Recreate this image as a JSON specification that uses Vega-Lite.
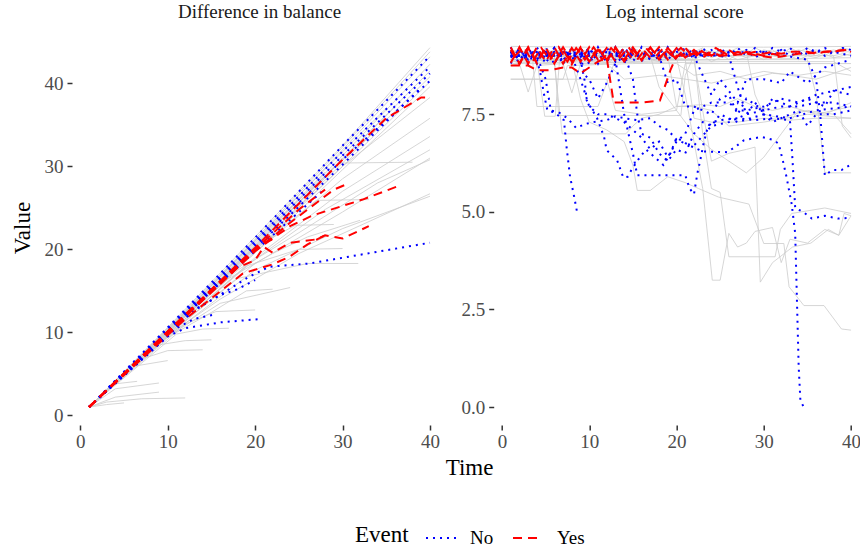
{
"$schema":"https://vega.github.io/schema/vega-lite/v6.json",
"padding":{"left":11,"top":3,"right":0,"bottom":0},
"config":{
 "font":"Liberation Serif",
 "view":{"stroke":null},
 "axis":{"grid":false,"domain":false,"tickColor":"#333333","tickSize":5,"tickWidth":1.5,"labelColor":"#4d4d4d","labelFontSize":19,"labelFont":"Liberation Serif","titleFont":"Liberation Serif","titleFontSize":23,"titleFontWeight":"normal","titleColor":"#000000","labelPadding":2},
 "axisY":{"labelPadding":4},
 "title":{"fontSize":19,"fontWeight":"normal","font":"Liberation Serif","color":"#1a1a1a","offset":8,"baseline":"alphabetic"},
 "legend":{"direction":"horizontal","titleOrient":"left","titleFontSize":23,"titleFontWeight":"normal","titleColor":"#000000","titleFont":"Liberation Serif","labelFont":"Liberation Serif","labelFontSize":19,"labelColor":"#000000","symbolType":"stroke","symbolSize":900,"symbolStrokeWidth":2,"labelOffset":13,"columnPadding":15,"titlePadding":16}
},
"datasets":{
"lg":[
{"i":1,"t":1,"v":1},{"i":1,"t":10,"v":10.6},{"i":1,"t":20,"v":21.5},{"i":1,"t":30,"v":32.5},{"i":1,"t":40,"v":44.3},
{"i":2,"t":1,"v":1},{"i":2,"t":10,"v":10.4},{"i":2,"t":20,"v":21},{"i":2,"t":30,"v":32},{"i":2,"t":40,"v":43.2},
{"i":3,"t":1,"v":1},{"i":3,"t":10,"v":10.3},{"i":3,"t":20,"v":20.6},{"i":3,"t":30,"v":31.3},{"i":3,"t":40,"v":42.3},
{"i":4,"t":1,"v":1},{"i":4,"t":10,"v":10.2},{"i":4,"t":20,"v":20.3},{"i":4,"t":30,"v":30.8},{"i":4,"t":40,"v":41.5},
{"i":5,"t":1,"v":1},{"i":5,"t":10,"v":10.1},{"i":5,"t":20,"v":20.1},{"i":5,"t":30,"v":30.4},{"i":5,"t":40,"v":40.8},
{"i":6,"t":1,"v":1},{"i":6,"t":10,"v":10},{"i":6,"t":20,"v":19.8},{"i":6,"t":30,"v":30},{"i":6,"t":40,"v":40.2},
{"i":7,"t":1,"v":1},{"i":7,"t":10,"v":9.9},{"i":7,"t":20,"v":19.6},{"i":7,"t":30,"v":29.6},{"i":7,"t":40,"v":39.6},
{"i":8,"t":1,"v":1},{"i":8,"t":10,"v":10.3},{"i":8,"t":20,"v":21},{"i":8,"t":25,"v":26.5},{"i":8,"t":35,"v":37},
{"i":9,"t":1,"v":1},{"i":9,"t":10,"v":10.2},{"i":9,"t":17,"v":17.8},{"i":9,"t":20.8,"v":22.1},{"i":9,"t":22,"v":21.5},{"i":9,"t":30,"v":31},
{"i":10,"t":1,"v":1},{"i":10,"t":10,"v":10.4},{"i":10,"t":20,"v":20.8},{"i":10,"t":28,"v":29.3},
{"i":11,"t":1,"v":1},{"i":11,"t":10,"v":10},{"i":11,"t":20,"v":20.2},{"i":11,"t":30,"v":30},{"i":11,"t":40,"v":38.3},
{"i":12,"t":1,"v":1},{"i":12,"t":10,"v":10},{"i":12,"t":20,"v":19.6},{"i":12,"t":30,"v":28.5},{"i":12,"t":40,"v":35.8},
{"i":13,"t":1,"v":1},{"i":13,"t":10,"v":9.8},{"i":13,"t":20,"v":19},{"i":13,"t":30,"v":27},{"i":13,"t":40,"v":33.6},
{"i":14,"t":1,"v":1},{"i":14,"t":10,"v":9.8},{"i":14,"t":20,"v":18.8},{"i":14,"t":28,"v":24.8},{"i":14,"t":40,"v":32},
{"i":15,"t":1,"v":1},{"i":15,"t":10,"v":9.7},{"i":15,"t":20,"v":18.3},{"i":15,"t":30,"v":24.5},{"i":15,"t":40,"v":31},
{"i":16,"t":1,"v":1},{"i":16,"t":10,"v":9.6},{"i":16,"t":16,"v":14},{"i":16,"t":25,"v":19.5},{"i":16,"t":40,"v":26.7},
{"i":17,"t":1,"v":1},{"i":17,"t":10,"v":9.5},{"i":17,"t":20,"v":17.5},{"i":17,"t":30,"v":22.5},{"i":17,"t":40,"v":26.4},
{"i":18,"t":1,"v":1},{"i":18,"t":10,"v":10.2},{"i":18,"t":20,"v":20.5},{"i":18,"t":29.5,"v":30.4},{"i":18,"t":38,"v":30.5},
{"i":19,"t":1,"v":1},{"i":19,"t":10,"v":10},{"i":19,"t":20,"v":20},{"i":19,"t":27,"v":25.9},{"i":19,"t":33,"v":26},
{"i":20,"t":1,"v":1},{"i":20,"t":10,"v":10},{"i":20,"t":20,"v":20.3},{"i":20,"t":24.6,"v":22.9},{"i":20,"t":29,"v":23},
{"i":21,"t":1,"v":1},{"i":21,"t":10,"v":9.8},{"i":21,"t":19,"v":18},{"i":21,"t":25,"v":20},{"i":21,"t":30,"v":20.1},
{"i":22,"t":1,"v":1},{"i":22,"t":10,"v":9.6},{"i":22,"t":18,"v":16.5},{"i":22,"t":26,"v":18.3},{"i":22,"t":31.8,"v":18.3},
{"i":23,"t":1,"v":1},{"i":23,"t":10,"v":9.5},{"i":23,"t":16,"v":13.5},{"i":23,"t":24,"v":15.4},
{"i":24,"t":1,"v":1},{"i":24,"t":12,"v":11},{"i":24,"t":15.5,"v":12.5},{"i":24,"t":20,"v":12.7},
{"i":25,"t":1,"v":1},{"i":25,"t":11,"v":9.8},{"i":25,"t":14,"v":10.4},{"i":25,"t":17,"v":10.5},
{"i":26,"t":1,"v":1},{"i":26,"t":9,"v":8.5},{"i":26,"t":12,"v":9},{"i":26,"t":15,"v":9.1},
{"i":27,"t":1,"v":1},{"i":27,"t":7,"v":6.8},{"i":27,"t":10,"v":7.8},{"i":27,"t":14,"v":7.9},
{"i":28,"t":1,"v":1},{"i":28,"t":6,"v":5.9},{"i":28,"t":10,"v":6.6},
{"i":29,"t":1,"v":1},{"i":29,"t":4,"v":3.8},{"i":29,"t":6.5,"v":4.1},
{"i":30,"t":1,"v":1},{"i":30,"t":4,"v":3.2},{"i":30,"t":9,"v":3.9},
{"i":31,"t":1,"v":1},{"i":31,"t":4,"v":2.2},{"i":31,"t":9,"v":2.8},
{"i":32,"t":1,"v":1},{"i":32,"t":3,"v":1.6},{"i":32,"t":7,"v":2},{"i":32,"t":12,"v":2.1},
{"i":33,"t":1,"v":1},{"i":33,"t":3,"v":1.3},{"i":33,"t":5,"v":1.5},
{"i":34,"t":1,"v":1},{"i":34,"t":10,"v":10},{"i":34,"t":17,"v":16.5},{"i":34,"t":22,"v":19.5},{"i":34,"t":26,"v":21.5},{"i":34,"t":32,"v":23.5},
{"i":35,"t":1,"v":1},{"i":35,"t":10,"v":10},{"i":35,"t":18,"v":17.5},{"i":35,"t":25,"v":22},{"i":35,"t":34,"v":28},{"i":35,"t":40,"v":30.8},
{"i":36,"t":1,"v":1},{"i":36,"t":10,"v":10.3},{"i":36,"t":20,"v":21},{"i":36,"t":25,"v":26},{"i":36,"t":34,"v":34.5},
{"i":37,"t":1,"v":1},{"i":37,"t":12,"v":12},{"i":37,"t":18,"v":18.3},
{"i":38,"t":1,"v":1},{"i":38,"t":10,"v":9.4},{"i":38,"t":15,"v":12.4},{"i":38,"t":19,"v":15},{"i":38,"t":22,"v":15.2},
{"i":39,"t":1,"v":1},{"i":39,"t":10,"v":10.1},{"i":39,"t":20,"v":20.4},{"i":39,"t":30,"v":31},{"i":39,"t":36,"v":37.2},
{"i":40,"t":1,"v":1},{"i":40,"t":10,"v":10.5},{"i":40,"t":20,"v":21.2},{"i":40,"t":30,"v":32.3},{"i":40,"t":40,"v":43.8}
],
"lh":[
{"i":1,"e":"No","t":1,"v":1},{"i":1,"e":"No","t":10,"v":10.6},{"i":1,"e":"No","t":20,"v":21.4},{"i":1,"e":"No","t":30,"v":32.5},{"i":1,"e":"No","t":40,"v":43.3},
{"i":2,"e":"No","t":1,"v":1},{"i":2,"e":"No","t":10,"v":10.4},{"i":2,"e":"No","t":20,"v":21},{"i":2,"e":"No","t":30,"v":31.8},{"i":2,"e":"No","t":40,"v":42},
{"i":3,"e":"No","t":1,"v":1},{"i":3,"e":"No","t":10,"v":10.3},{"i":3,"e":"No","t":20,"v":20.7},{"i":3,"e":"No","t":30,"v":31.3},{"i":3,"e":"No","t":40,"v":41.2},
{"i":4,"e":"No","t":1,"v":1},{"i":4,"e":"No","t":10,"v":10.2},{"i":4,"e":"No","t":20,"v":20.4},{"i":4,"e":"No","t":30,"v":30.8},{"i":4,"e":"No","t":40,"v":40.3},
{"i":5,"e":"No","t":1,"v":1},{"i":5,"e":"No","t":10,"v":10.1},{"i":5,"e":"No","t":20,"v":20.1},{"i":5,"e":"No","t":30,"v":30.2},{"i":5,"e":"No","t":39,"v":39.5},
{"i":6,"e":"No","t":1,"v":1},{"i":6,"e":"No","t":10,"v":10.1},{"i":6,"e":"No","t":20,"v":19.8},{"i":6,"e":"No","t":28,"v":27.3},
{"i":7,"e":"No","t":1,"v":1},{"i":7,"e":"No","t":13,"v":12.6},{"i":7,"e":"No","t":15.5,"v":14.2},{"i":7,"e":"No","t":19.3,"v":16.7},{"i":7,"e":"No","t":21.6,"v":17.9},{"i":7,"e":"No","t":26.2,"v":18.3},{"i":7,"e":"No","t":40,"v":20.8},
{"i":8,"e":"No","t":1,"v":1},{"i":8,"e":"No","t":10,"v":9.5},{"i":8,"e":"No","t":12,"v":10.5},{"i":8,"e":"No","t":16,"v":11.2},{"i":8,"e":"No","t":20.5,"v":11.6},
{"i":9,"e":"No","t":1,"v":1},{"i":9,"e":"No","t":11,"v":10.5},{"i":9,"e":"No","t":13,"v":11.6},{"i":9,"e":"No","t":15.5,"v":12.2},
{"i":10,"e":"No","t":1,"v":1},{"i":10,"e":"No","t":13,"v":12.7},{"i":10,"e":"No","t":16,"v":14.5},{"i":10,"e":"No","t":18,"v":15.2},{"i":10,"e":"No","t":20,"v":16.3},
{"i":11,"e":"Yes","t":1,"v":1},{"i":11,"e":"Yes","t":10,"v":10.1},{"i":11,"e":"Yes","t":20,"v":20.2},{"i":11,"e":"Yes","t":30,"v":30.8},{"i":11,"e":"Yes","t":35,"v":35.8},{"i":11,"e":"Yes","t":39,"v":38.3},{"i":11,"e":"Yes","t":40,"v":38.3},
{"i":12,"e":"Yes","t":1,"v":1},{"i":12,"e":"Yes","t":10,"v":10},{"i":12,"e":"Yes","t":20,"v":19.8},{"i":12,"e":"Yes","t":24,"v":23.2},{"i":12,"e":"Yes","t":29,"v":27.2},{"i":12,"e":"Yes","t":30.8,"v":28},
{"i":13,"e":"Yes","t":1,"v":1},{"i":13,"e":"Yes","t":10,"v":10},{"i":13,"e":"Yes","t":20,"v":19.8},{"i":13,"e":"Yes","t":24,"v":22.8},{"i":13,"e":"Yes","t":26.6,"v":24.1},{"i":13,"e":"Yes","t":32.3,"v":26},{"i":13,"e":"Yes","t":36.3,"v":27.6},
{"i":14,"e":"Yes","t":1,"v":1},{"i":14,"e":"Yes","t":10,"v":9.9},{"i":14,"e":"Yes","t":18,"v":17.8},{"i":14,"e":"Yes","t":20,"v":18.7},{"i":14,"e":"Yes","t":21,"v":20.3},{"i":14,"e":"Yes","t":22,"v":19.6},{"i":14,"e":"Yes","t":24,"v":20.8},{"i":14,"e":"Yes","t":27,"v":21.2},{"i":14,"e":"Yes","t":28,"v":21.7},{"i":14,"e":"Yes","t":30,"v":21.3},{"i":14,"e":"Yes","t":33,"v":22.8},
{"i":15,"e":"Yes","t":1,"v":1},{"i":15,"e":"Yes","t":12,"v":11.6},{"i":15,"e":"Yes","t":18.6,"v":17.1},{"i":15,"e":"Yes","t":22,"v":18.2},{"i":15,"e":"Yes","t":23.9,"v":19.1},{"i":15,"e":"Yes","t":26,"v":20.6},{"i":15,"e":"Yes","t":28,"v":21.7},
{"i":16,"e":"Yes","t":1,"v":1},{"i":16,"e":"Yes","t":10,"v":10.1},{"i":16,"e":"Yes","t":19,"v":19.2},{"i":16,"e":"Yes","t":20,"v":19.8},{"i":16,"e":"Yes","t":21,"v":20.8},{"i":16,"e":"Yes","t":22,"v":21.2},
{"i":17,"e":"Yes","t":1,"v":1},{"i":17,"e":"Yes","t":10,"v":10.1},{"i":17,"e":"Yes","t":20,"v":20},{"i":17,"e":"Yes","t":25,"v":24.8},{"i":17,"e":"Yes","t":28,"v":27.2}
],
"rg":[
{"i":1,"t":1,"v":9.2},{"i":1,"t":2,"v":9.0},{"i":1,"t":3,"v":9.15},{"i":1,"t":4,"v":8.95},{"i":1,"t":5,"v":9.2},{"i":1,"t":6,"v":9.05},{"i":1,"t":7,"v":9.2},{"i":1,"t":8,"v":8.95},{"i":1,"t":9,"v":9.15},{"i":1,"t":10,"v":9.0},{"i":1,"t":11,"v":9.2},{"i":1,"t":12,"v":9.05},{"i":1,"t":13,"v":9.15},{"i":1,"t":14,"v":8.9},{"i":1,"t":15,"v":9.2},{"i":1,"t":16,"v":9.1},{"i":1,"t":17,"v":9.2},{"i":1,"t":18,"v":8.95},{"i":1,"t":19,"v":9.15},{"i":1,"t":20,"v":9.05},{"i":1,"t":21,"v":9.2},{"i":1,"t":22,"v":9.1},{"i":1,"t":23,"v":9.2},{"i":1,"t":24,"v":9.0},{"i":1,"t":25,"v":9.15},{"i":1,"t":26,"v":9.1},{"i":1,"t":27,"v":9.2},{"i":1,"t":28,"v":9.05},{"i":1,"t":29,"v":9.2},{"i":1,"t":30,"v":9.1},{"i":1,"t":31,"v":9.15},{"i":1,"t":32,"v":9.0},{"i":1,"t":33,"v":9.2},{"i":1,"t":34,"v":9.1},{"i":1,"t":35,"v":9.2},{"i":1,"t":36,"v":9.05},{"i":1,"t":37,"v":9.15},{"i":1,"t":38,"v":9.1},{"i":1,"t":39,"v":9.2},{"i":1,"t":40,"v":9.15},
{"i":2,"t":1,"v":8.9},{"i":2,"t":2,"v":8.8},{"i":2,"t":3,"v":8.85},{"i":2,"t":4,"v":8.95},{"i":2,"t":5,"v":8.8},{"i":2,"t":6,"v":8.9},{"i":2,"t":7,"v":8.85},{"i":2,"t":8,"v":8.8},{"i":2,"t":9,"v":8.95},{"i":2,"t":10,"v":8.85},{"i":2,"t":11,"v":8.9},{"i":2,"t":12,"v":8.8},{"i":2,"t":13,"v":8.95},{"i":2,"t":14,"v":8.9},{"i":2,"t":15,"v":8.85},{"i":2,"t":16,"v":8.95},{"i":2,"t":17,"v":8.9},{"i":2,"t":18,"v":8.85},{"i":2,"t":19,"v":8.95},{"i":2,"t":20,"v":8.9},{"i":2,"t":21,"v":8.95},{"i":2,"t":22,"v":8.9},{"i":2,"t":23,"v":9.0},{"i":2,"t":24,"v":8.85},{"i":2,"t":25,"v":8.95},{"i":2,"t":26,"v":9.0},{"i":2,"t":27,"v":8.9},{"i":2,"t":28,"v":8.95},{"i":2,"t":29,"v":9.0},{"i":2,"t":30,"v":8.9},{"i":2,"t":31,"v":9.0},{"i":2,"t":32,"v":8.95},{"i":2,"t":33,"v":9.0},{"i":2,"t":34,"v":8.9},{"i":2,"t":35,"v":9.0},{"i":2,"t":36,"v":8.95},{"i":2,"t":37,"v":9.05},{"i":2,"t":38,"v":8.95},{"i":2,"t":39,"v":9.0},{"i":2,"t":40,"v":9.05},
{"i":3,"t":1,"v":9.1},{"i":3,"t":2,"v":9.15},{"i":3,"t":3,"v":9.0},{"i":3,"t":4,"v":9.1},{"i":3,"t":5,"v":9.05},{"i":3,"t":6,"v":9.15},{"i":3,"t":7,"v":9.1},{"i":3,"t":8,"v":9.0},{"i":3,"t":9,"v":9.1},{"i":3,"t":10,"v":9.15},{"i":3,"t":11,"v":9.05},{"i":3,"t":12,"v":9.1},{"i":3,"t":13,"v":9.15},{"i":3,"t":14,"v":9.05},{"i":3,"t":15,"v":9.1},{"i":3,"t":16,"v":9.0},{"i":3,"t":17,"v":9.1},{"i":3,"t":18,"v":9.15},{"i":3,"t":19,"v":9.05},{"i":3,"t":20,"v":9.15},{"i":3,"t":21,"v":9.1},{"i":3,"t":22,"v":9.05},{"i":3,"t":23,"v":9.15},{"i":3,"t":24,"v":9.1},{"i":3,"t":25,"v":9.05},{"i":3,"t":26,"v":9.15},{"i":3,"t":27,"v":9.1},{"i":3,"t":28,"v":9.15},{"i":3,"t":29,"v":9.05},{"i":3,"t":30,"v":9.15},{"i":3,"t":31,"v":9.1},{"i":3,"t":32,"v":9.15},{"i":3,"t":33,"v":9.1},{"i":3,"t":34,"v":9.15},{"i":3,"t":35,"v":9.1},{"i":3,"t":36,"v":9.15},{"i":3,"t":37,"v":9.1},{"i":3,"t":38,"v":9.15},{"i":3,"t":39,"v":9.1},{"i":3,"t":40,"v":9.1},
{"i":4,"t":1,"v":8.75},{"i":4,"t":2,"v":8.8},{"i":4,"t":3,"v":8.07},{"i":4,"t":4,"v":8.75},{"i":4,"t":7,"v":8.8},{"i":4,"t":8,"v":8.05},{"i":4,"t":9,"v":8.8},{"i":4,"t":15,"v":8.85},{"i":4,"t":25,"v":8.9},{"i":4,"t":40,"v":8.95},
{"i":5,"t":1,"v":8.4},{"i":5,"t":7,"v":8.4},{"i":5,"t":7.5,"v":8.75},{"i":5,"t":15,"v":8.8},{"i":5,"t":25,"v":8.85},{"i":5,"t":38,"v":8.85},{"i":5,"t":40,"v":8.6},
{"i":6,"t":1,"v":9.05},{"i":6,"t":2,"v":8.9},{"i":6,"t":3,"v":9.1},{"i":6,"t":4,"v":8.85},{"i":6,"t":5,"v":9.0},{"i":6,"t":6,"v":8.9},{"i":6,"t":7,"v":9.05},{"i":6,"t":8,"v":8.85},{"i":6,"t":9,"v":9.0},{"i":6,"t":10,"v":8.9},{"i":6,"t":11,"v":9.05},{"i":6,"t":12,"v":8.95},{"i":6,"t":13,"v":9.0},{"i":6,"t":14,"v":8.85},{"i":6,"t":15,"v":9.05},{"i":6,"t":16,"v":8.95},{"i":6,"t":17,"v":9.1},{"i":6,"t":18,"v":8.9},{"i":6,"t":19,"v":9.05},{"i":6,"t":20,"v":8.9},{"i":6,"t":21,"v":9.05},{"i":6,"t":22,"v":8.95},{"i":6,"t":23,"v":9.1},{"i":6,"t":24,"v":8.95},{"i":6,"t":25,"v":9.05},{"i":6,"t":26,"v":8.9},{"i":6,"t":27,"v":9.05},{"i":6,"t":28,"v":8.95},{"i":6,"t":29,"v":9.1},{"i":6,"t":30,"v":9.0},{"i":6,"t":31,"v":9.05},{"i":6,"t":32,"v":8.95},{"i":6,"t":33,"v":9.1},{"i":6,"t":34,"v":9.0},{"i":6,"t":35,"v":9.05},{"i":6,"t":36,"v":9.0},{"i":6,"t":37,"v":9.1},{"i":6,"t":38,"v":9.0},{"i":6,"t":39,"v":9.05},{"i":6,"t":40,"v":9.0},
{"i":7,"t":1,"v":8.9},{"i":7,"t":4,"v":8.9},{"i":7,"t":4.9,"v":7.45},{"i":7,"t":6.1,"v":7.45},{"i":7,"t":6.6,"v":8.9},{"i":7,"t":12,"v":8.9},
{"i":8,"t":1,"v":8.9},{"i":8,"t":3.5,"v":8.9},{"i":8,"t":4,"v":7.7},{"i":8,"t":11,"v":7.7},{"i":8,"t":12,"v":8.3},{"i":8,"t":13,"v":8.9},{"i":8,"t":20,"v":9.0},
{"i":9,"t":1,"v":9.0},{"i":9,"t":6,"v":9.0},{"i":9,"t":6.5,"v":7.47},{"i":9,"t":20.5,"v":7.47},{"i":9,"t":21,"v":8.5},{"i":9,"t":22,"v":9.0},{"i":9,"t":30,"v":9.0},
{"i":10,"t":1,"v":8.8},{"i":10,"t":6,"v":8.8},{"i":10,"t":6.9,"v":7.0},{"i":10,"t":14.2,"v":7.0},{"i":10,"t":15,"v":7.2},{"i":10,"t":16,"v":7.4},{"i":10,"t":18,"v":7.5},{"i":10,"t":20,"v":7.7},{"i":10,"t":22,"v":7.7},{"i":10,"t":24,"v":7.6},{"i":10,"t":26,"v":7.2},{"i":10,"t":30,"v":7.3},{"i":10,"t":35,"v":7.5},{"i":10,"t":40,"v":7.4},
{"i":11,"t":1,"v":9.0},{"i":11,"t":8,"v":8.9},{"i":11,"t":9,"v":7.9},{"i":11,"t":10,"v":7.3},{"i":11,"t":12,"v":7.1},{"i":11,"t":14,"v":6.8},{"i":11,"t":15,"v":6.2},{"i":11,"t":15.5,"v":5.55},{"i":11,"t":17,"v":5.55},{"i":11,"t":19,"v":5.9},{"i":11,"t":21,"v":5.75},{"i":11,"t":22.5,"v":5.6},{"i":11,"t":24.8,"v":5.38},{"i":11,"t":28.3,"v":5.2},{"i":11,"t":30,"v":4.19},{"i":11,"t":32.3,"v":4.19},{"i":11,"t":32.9,"v":3.08},{"i":11,"t":34.6,"v":2.6},{"i":11,"t":36.9,"v":2.6},{"i":11,"t":38.9,"v":2.0},{"i":11,"t":40,"v":1.97},
{"i":12,"t":1,"v":9.0},{"i":12,"t":20,"v":8.95},{"i":12,"t":21,"v":8.0},{"i":12,"t":22,"v":6.8},{"i":12,"t":23,"v":5.6},{"i":12,"t":24.1,"v":3.25},{"i":12,"t":25,"v":3.25},{"i":12,"t":26,"v":4.45},{"i":12,"t":27,"v":4.1},{"i":12,"t":28,"v":4.2},{"i":12,"t":29,"v":4.5},{"i":12,"t":31,"v":4.6},{"i":12,"t":32,"v":3.7},{"i":12,"t":33,"v":4.3},{"i":12,"t":35,"v":4.2},{"i":12,"t":37,"v":4.55},{"i":12,"t":38.6,"v":4.4},{"i":12,"t":40,"v":4.9},
{"i":13,"t":1,"v":9.1},{"i":13,"t":22,"v":9.0},{"i":13,"t":23,"v":7.0},{"i":13,"t":24,"v":5.6},{"i":13,"t":25,"v":5.5},{"i":13,"t":26,"v":3.85},{"i":13,"t":31.3,"v":3.85},{"i":13,"t":31.9,"v":4.55},{"i":13,"t":33.2,"v":4.96},{"i":13,"t":37,"v":5.1},{"i":13,"t":40,"v":4.96},
{"i":14,"t":1,"v":9.0},{"i":14,"t":22,"v":8.9},{"i":14,"t":24,"v":6.3},{"i":14,"t":26,"v":6.5},{"i":14,"t":28,"v":6.6},{"i":14,"t":29,"v":6.66},{"i":14,"t":29.6,"v":3.2},{"i":14,"t":31,"v":3.7},{"i":14,"t":33.3,"v":4.1},{"i":14,"t":35.4,"v":4.2},{"i":14,"t":37.4,"v":4.55},{"i":14,"t":38.6,"v":4.4},{"i":14,"t":39.2,"v":4.96},{"i":14,"t":40,"v":4.9},
{"i":15,"t":1,"v":8.9},{"i":15,"t":35,"v":8.9},{"i":15,"t":36,"v":8.0},{"i":15,"t":37,"v":6.0},{"i":15,"t":40,"v":6.0},
{"i":16,"t":1,"v":9.0},{"i":16,"t":38,"v":9.0},{"i":16,"t":39,"v":7.2},{"i":16,"t":40,"v":6.9},
{"i":17,"t":1,"v":9.0},{"i":17,"t":19,"v":9.0},{"i":17,"t":20,"v":7.7},{"i":17,"t":23,"v":7.75},{"i":17,"t":25,"v":7.7},{"i":17,"t":27,"v":7.9},{"i":17,"t":29,"v":7.7},{"i":17,"t":31,"v":7.6},{"i":17,"t":33,"v":7.7},{"i":17,"t":36,"v":7.5},{"i":17,"t":40,"v":7.7},
{"i":18,"t":1,"v":8.9},{"i":18,"t":21,"v":8.9},{"i":18,"t":22,"v":7.4},{"i":18,"t":24,"v":7.3},{"i":18,"t":27,"v":7.3},{"i":18,"t":30,"v":7.4},{"i":18,"t":33,"v":7.35},{"i":18,"t":36,"v":7.4},{"i":18,"t":40,"v":7.4},
{"i":19,"t":1,"v":9.0},{"i":19,"t":17,"v":9.0},{"i":19,"t":18,"v":8.2},{"i":19,"t":20,"v":7.6},{"i":19,"t":22,"v":7.0},{"i":19,"t":24,"v":6.6},{"i":19,"t":26,"v":6.3},{"i":19,"t":28,"v":6.0},{"i":19,"t":30,"v":6.4},{"i":19,"t":32,"v":7.0},{"i":19,"t":34,"v":7.6},{"i":19,"t":37,"v":7.5},{"i":19,"t":40,"v":7.8},
{"i":20,"t":1,"v":9.1},{"i":20,"t":28,"v":9.1},{"i":20,"t":29,"v":8.0},{"i":20,"t":30,"v":7.5},{"i":20,"t":32,"v":7.4},{"i":20,"t":35,"v":7.6},{"i":20,"t":38,"v":7.5},{"i":20,"t":40,"v":7.0},
{"i":21,"t":1,"v":8.9},{"i":21,"t":20,"v":8.8},{"i":21,"t":22,"v":8.5},{"i":21,"t":25,"v":8.6},{"i":21,"t":28,"v":8.4},{"i":21,"t":31,"v":8.55},{"i":21,"t":34,"v":8.5},{"i":21,"t":37,"v":8.6},{"i":21,"t":40,"v":8.5},
{"i":22,"t":1,"v":8.85},{"i":22,"t":12,"v":8.8},{"i":22,"t":14,"v":8.4},{"i":22,"t":18,"v":8.5},{"i":22,"t":24,"v":8.3},{"i":22,"t":30,"v":8.6},{"i":22,"t":36,"v":8.4},{"i":22,"t":40,"v":8.7},
{"i":23,"t":1,"v":8.4},{"i":23,"t":12,"v":8.4},{"i":23,"t":13,"v":7.6},{"i":23,"t":16,"v":7.5},{"i":23,"t":20,"v":7.6},{"i":23,"t":21,"v":8.8},{"i":23,"t":40,"v":8.8},
{"i":24,"t":1,"v":9.24},{"i":24,"t":10,"v":9.22},{"i":24,"t":20,"v":9.24},{"i":24,"t":30,"v":9.22},{"i":24,"t":40,"v":9.24}
],
"rh":[
{"i":1,"e":"No","t":1,"v":9.22},{"i":1,"e":"No","t":2,"v":8.78},{"i":1,"e":"No","t":3,"v":9.22},{"i":1,"e":"No","t":4,"v":8.8},{"i":1,"e":"No","t":5,"v":9.22},{"i":1,"e":"No","t":6,"v":8.78},{"i":1,"e":"No","t":7,"v":9.22},{"i":1,"e":"No","t":8,"v":8.8},{"i":1,"e":"No","t":9,"v":9.22},{"i":1,"e":"No","t":10,"v":8.78},{"i":1,"e":"No","t":11,"v":9.22},{"i":1,"e":"No","t":12,"v":8.82},{"i":1,"e":"No","t":13,"v":9.22},{"i":1,"e":"No","t":14,"v":8.8},{"i":1,"e":"No","t":15,"v":9.22},{"i":1,"e":"No","t":16,"v":8.85},{"i":1,"e":"No","t":17,"v":9.22},{"i":1,"e":"No","t":18,"v":8.85},{"i":1,"e":"No","t":19,"v":9.22},{"i":1,"e":"No","t":20,"v":8.9},{"i":1,"e":"No","t":21,"v":9.22},{"i":1,"e":"No","t":22,"v":8.9},{"i":1,"e":"No","t":23,"v":9.2},{"i":1,"e":"No","t":24,"v":8.95},{"i":1,"e":"No","t":25,"v":9.2},{"i":1,"e":"No","t":26,"v":9.0},{"i":1,"e":"No","t":27,"v":9.2},{"i":1,"e":"No","t":28,"v":9.0},{"i":1,"e":"No","t":29,"v":9.2},{"i":1,"e":"No","t":30,"v":9.05},{"i":1,"e":"No","t":31,"v":9.2},{"i":1,"e":"No","t":32,"v":9.1},{"i":1,"e":"No","t":33,"v":9.2},{"i":1,"e":"No","t":34,"v":9.0},{"i":1,"e":"No","t":35,"v":9.2},{"i":1,"e":"No","t":36,"v":9.1},{"i":1,"e":"No","t":37,"v":9.2},{"i":1,"e":"No","t":38,"v":9.05},{"i":1,"e":"No","t":39,"v":9.2},{"i":1,"e":"No","t":40,"v":9.15},
{"i":2,"e":"No","t":1,"v":8.8},{"i":2,"e":"No","t":2,"v":9.2},{"i":2,"e":"No","t":3,"v":8.78},{"i":2,"e":"No","t":4,"v":9.22},{"i":2,"e":"No","t":5,"v":8.8},{"i":2,"e":"No","t":6,"v":9.2},{"i":2,"e":"No","t":7,"v":8.78},{"i":2,"e":"No","t":8,"v":9.22},{"i":2,"e":"No","t":9,"v":8.82},{"i":2,"e":"No","t":10,"v":9.2},{"i":2,"e":"No","t":11,"v":8.8},{"i":2,"e":"No","t":12,"v":9.22},{"i":2,"e":"No","t":13,"v":8.85},{"i":2,"e":"No","t":14,"v":9.2},{"i":2,"e":"No","t":15,"v":8.85},{"i":2,"e":"No","t":16,"v":9.22},{"i":2,"e":"No","t":17,"v":8.9},{"i":2,"e":"No","t":18,"v":9.2},{"i":2,"e":"No","t":19,"v":8.88},{"i":2,"e":"No","t":20,"v":9.2},{"i":2,"e":"No","t":21,"v":8.95},{"i":2,"e":"No","t":22,"v":9.1},{"i":2,"e":"No","t":23,"v":9.0},{"i":2,"e":"No","t":24,"v":9.15},{"i":2,"e":"No","t":25,"v":8.95},{"i":2,"e":"No","t":26,"v":9.1},{"i":2,"e":"No","t":27,"v":9.0},{"i":2,"e":"No","t":28,"v":9.15},{"i":2,"e":"No","t":29,"v":8.95},{"i":2,"e":"No","t":30,"v":9.1},{"i":2,"e":"No","t":31,"v":9.0},{"i":2,"e":"No","t":32,"v":9.15},{"i":2,"e":"No","t":33,"v":9.0},{"i":2,"e":"No","t":34,"v":9.1},{"i":2,"e":"No","t":35,"v":9.05},{"i":2,"e":"No","t":36,"v":9.15},{"i":2,"e":"No","t":37,"v":9.0},{"i":2,"e":"No","t":38,"v":9.1},{"i":2,"e":"No","t":39,"v":9.05},{"i":2,"e":"No","t":40,"v":9.0},
{"i":3,"e":"No","t":1,"v":9.05},{"i":3,"e":"No","t":2,"v":9.15},{"i":3,"e":"No","t":3,"v":8.9},{"i":3,"e":"No","t":4,"v":9.1},{"i":3,"e":"No","t":5,"v":8.95},{"i":3,"e":"No","t":6,"v":9.2},{"i":3,"e":"No","t":7,"v":8.85},{"i":3,"e":"No","t":8,"v":9.1},{"i":3,"e":"No","t":9,"v":9.0},{"i":3,"e":"No","t":10,"v":9.2},{"i":3,"e":"No","t":11,"v":8.9},{"i":3,"e":"No","t":12,"v":9.1},{"i":3,"e":"No","t":13,"v":8.95},{"i":3,"e":"No","t":14,"v":9.2},{"i":3,"e":"No","t":15,"v":9.0},{"i":3,"e":"No","t":16,"v":9.1},{"i":3,"e":"No","t":17,"v":8.9},{"i":3,"e":"No","t":18,"v":9.15},{"i":3,"e":"No","t":19,"v":9.0},{"i":3,"e":"No","t":20,"v":9.1},{"i":3,"e":"No","t":21,"v":9.05},{"i":3,"e":"No","t":22,"v":9.15},{"i":3,"e":"No","t":23,"v":9.0},{"i":3,"e":"No","t":24,"v":9.1},
{"i":4,"e":"No","t":1,"v":9.1},{"i":4,"e":"No","t":2,"v":8.9},{"i":4,"e":"No","t":3,"v":9.1},{"i":4,"e":"No","t":4,"v":8.9},{"i":4,"e":"No","t":4.4,"v":8.55},{"i":4,"e":"No","t":4.8,"v":8.03},{"i":4,"e":"No","t":5.2,"v":7.6},{"i":4,"e":"No","t":6,"v":7.55},{"i":4,"e":"No","t":7.1,"v":7.35},{"i":4,"e":"No","t":7.4,"v":6.66},{"i":4,"e":"No","t":7.8,"v":5.9},{"i":4,"e":"No","t":8.2,"v":5.47},{"i":4,"e":"No","t":8.6,"v":5.0},
{"i":5,"e":"No","t":1,"v":8.95},{"i":5,"e":"No","t":2,"v":9.15},{"i":5,"e":"No","t":3,"v":8.9},{"i":5,"e":"No","t":4,"v":9.1},{"i":5,"e":"No","t":5,"v":8.95},{"i":5,"e":"No","t":6,"v":9.1},{"i":5,"e":"No","t":7,"v":8.9},{"i":5,"e":"No","t":8,"v":9.1},{"i":5,"e":"No","t":9,"v":8.9},{"i":5,"e":"No","t":9.5,"v":8.33},{"i":5,"e":"No","t":9.7,"v":7.86},{"i":5,"e":"No","t":10.9,"v":7.4},{"i":5,"e":"No","t":11.7,"v":6.92},{"i":5,"e":"No","t":12,"v":6.58},{"i":5,"e":"No","t":13.2,"v":6.32},{"i":5,"e":"No","t":13.9,"v":5.88},{"i":5,"e":"No","t":14.4,"v":5.9},{"i":5,"e":"No","t":14.9,"v":6.1},{"i":5,"e":"No","t":15.8,"v":6.4},{"i":5,"e":"No","t":16.5,"v":6.6},{"i":5,"e":"No","t":17.5,"v":6.4},{"i":5,"e":"No","t":18.5,"v":6.2},{"i":5,"e":"No","t":19.3,"v":6.5},{"i":5,"e":"No","t":20,"v":6.9},{"i":5,"e":"No","t":21.5,"v":6.7},{"i":5,"e":"No","t":23,"v":6.55},{"i":5,"e":"No","t":25.8,"v":6.53},{"i":5,"e":"No","t":26.7,"v":6.66},{"i":5,"e":"No","t":27.7,"v":6.83},{"i":5,"e":"No","t":28.7,"v":6.88},{"i":5,"e":"No","t":29.8,"v":6.92},{"i":5,"e":"No","t":31,"v":6.85},{"i":5,"e":"No","t":31.7,"v":6.75},{"i":5,"e":"No","t":32.2,"v":6.3},{"i":5,"e":"No","t":32.6,"v":5.9},{"i":5,"e":"No","t":33.2,"v":5.2},{"i":5,"e":"No","t":33.6,"v":4.45},{"i":5,"e":"No","t":33.8,"v":2.74},{"i":5,"e":"No","t":34,"v":1.03},{"i":5,"e":"No","t":34.2,"v":0.15},{"i":5,"e":"No","t":34.6,"v":0.0},
{"i":6,"e":"No","t":1,"v":9.1},{"i":6,"e":"No","t":2,"v":8.9},{"i":6,"e":"No","t":3,"v":9.15},{"i":6,"e":"No","t":4,"v":8.9},{"i":6,"e":"No","t":5,"v":9.1},{"i":6,"e":"No","t":6,"v":8.95},{"i":6,"e":"No","t":7,"v":9.1},{"i":6,"e":"No","t":8,"v":8.9},{"i":6,"e":"No","t":9,"v":9.05},{"i":6,"e":"No","t":10,"v":8.9},{"i":6,"e":"No","t":11,"v":9.1},{"i":6,"e":"No","t":12,"v":9.0},{"i":6,"e":"No","t":13,"v":8.9},{"i":6,"e":"No","t":14,"v":7.5},{"i":6,"e":"No","t":15,"v":6.5},{"i":6,"e":"No","t":15.5,"v":5.94},{"i":6,"e":"No","t":21,"v":5.94},{"i":6,"e":"No","t":21.5,"v":5.6},{"i":6,"e":"No","t":22,"v":5.45},{"i":6,"e":"No","t":22.4,"v":6.0},{"i":6,"e":"No","t":22.7,"v":6.3},{"i":6,"e":"No","t":23.1,"v":6.75},{"i":6,"e":"No","t":23.5,"v":7.1},{"i":6,"e":"No","t":24,"v":7.3},{"i":6,"e":"No","t":25,"v":7.35},{"i":6,"e":"No","t":27,"v":7.4},{"i":6,"e":"No","t":29,"v":7.35},{"i":6,"e":"No","t":31,"v":7.4},{"i":6,"e":"No","t":33,"v":7.35},{"i":6,"e":"No","t":33.3,"v":6.3},{"i":6,"e":"No","t":33.6,"v":5.1},{"i":6,"e":"No","t":34.5,"v":5.0},{"i":6,"e":"No","t":35.5,"v":4.83},{"i":6,"e":"No","t":37,"v":4.9},{"i":6,"e":"No","t":38.5,"v":4.83},{"i":6,"e":"No","t":40,"v":4.85},
{"i":7,"e":"No","t":1,"v":9.0},{"i":7,"e":"No","t":10,"v":9.1},{"i":7,"e":"No","t":20,"v":9.05},{"i":7,"e":"No","t":30,"v":9.1},{"i":7,"e":"No","t":35,"v":8.9},{"i":7,"e":"No","t":36,"v":8.4},{"i":7,"e":"No","t":36.5,"v":7.4},{"i":7,"e":"No","t":37,"v":5.93},{"i":7,"e":"No","t":37.8,"v":6.07},{"i":7,"e":"No","t":38.9,"v":6.07},{"i":7,"e":"No","t":39.9,"v":6.2},
{"i":8,"e":"No","t":1,"v":9.0},{"i":8,"e":"No","t":4,"v":9.0},{"i":8,"e":"No","t":5,"v":8.4},{"i":8,"e":"No","t":5.6,"v":7.6},{"i":8,"e":"No","t":6.5,"v":7.55},{"i":8,"e":"No","t":7.5,"v":7.4},{"i":8,"e":"No","t":8.5,"v":7.15},{"i":8,"e":"No","t":9.5,"v":7.25},{"i":8,"e":"No","t":10.5,"v":7.3},{"i":8,"e":"No","t":12,"v":7.35},{"i":8,"e":"No","t":13,"v":7.45},{"i":8,"e":"No","t":14,"v":7.4},{"i":8,"e":"No","t":15.5,"v":7.35},{"i":8,"e":"No","t":17,"v":7.4},{"i":8,"e":"No","t":18,"v":7.2},{"i":8,"e":"No","t":19,"v":7.1},{"i":8,"e":"No","t":20,"v":6.85},{"i":8,"e":"No","t":21,"v":6.75},{"i":8,"e":"No","t":22,"v":6.7},{"i":8,"e":"No","t":23,"v":6.95},{"i":8,"e":"No","t":24,"v":7.2},{"i":8,"e":"No","t":26,"v":7.3},{"i":8,"e":"No","t":28,"v":7.5},{"i":8,"e":"No","t":30,"v":7.6},{"i":8,"e":"No","t":32,"v":7.7},{"i":8,"e":"No","t":34,"v":7.7},{"i":8,"e":"No","t":36,"v":7.8},{"i":8,"e":"No","t":38,"v":7.8},{"i":8,"e":"No","t":40,"v":7.7},
{"i":9,"e":"No","t":1,"v":9.1},{"i":9,"e":"No","t":8,"v":9.0},{"i":9,"e":"No","t":9,"v":8.4},{"i":9,"e":"No","t":10,"v":7.7},{"i":9,"e":"No","t":11,"v":7.5},{"i":9,"e":"No","t":12,"v":7.5},{"i":9,"e":"No","t":14,"v":7.3},{"i":9,"e":"No","t":16,"v":6.9},{"i":9,"e":"No","t":17,"v":6.6},{"i":9,"e":"No","t":18,"v":6.8},{"i":9,"e":"No","t":19,"v":6.4},{"i":9,"e":"No","t":20,"v":6.8},{"i":9,"e":"No","t":21,"v":7.0},{"i":9,"e":"No","t":22,"v":7.6},{"i":9,"e":"No","t":24,"v":7.8},{"i":9,"e":"No","t":26,"v":7.8},{"i":9,"e":"No","t":27,"v":7.6},{"i":9,"e":"No","t":28,"v":7.6},{"i":9,"e":"No","t":30,"v":7.7},{"i":9,"e":"No","t":32,"v":7.9},{"i":9,"e":"No","t":34,"v":7.8},{"i":9,"e":"No","t":36,"v":8.0},{"i":9,"e":"No","t":38,"v":8.1},{"i":9,"e":"No","t":40,"v":8.2},
{"i":10,"e":"No","t":1,"v":9.0},{"i":10,"e":"No","t":22,"v":9.0},{"i":10,"e":"No","t":23,"v":8.5},{"i":10,"e":"No","t":24,"v":8.0},{"i":10,"e":"No","t":25,"v":8.4},{"i":10,"e":"No","t":26,"v":8.1},{"i":10,"e":"No","t":27,"v":7.8},{"i":10,"e":"No","t":28,"v":8.4},{"i":10,"e":"No","t":30,"v":8.4},{"i":10,"e":"No","t":32,"v":8.3},{"i":10,"e":"No","t":33,"v":8.6},{"i":10,"e":"No","t":35,"v":8.3},{"i":10,"e":"No","t":37,"v":8.7},{"i":10,"e":"No","t":40,"v":8.9},
{"i":11,"e":"No","t":1,"v":9.1},{"i":11,"e":"No","t":26,"v":9.0},{"i":11,"e":"No","t":27,"v":8.2},{"i":11,"e":"No","t":28,"v":7.5},{"i":11,"e":"No","t":29,"v":7.8},{"i":11,"e":"No","t":30,"v":7.5},{"i":11,"e":"No","t":31,"v":7.3},{"i":11,"e":"No","t":32,"v":7.4},{"i":11,"e":"No","t":34,"v":7.6},{"i":11,"e":"No","t":35,"v":7.2},{"i":11,"e":"No","t":36,"v":7.5},{"i":11,"e":"No","t":38,"v":7.5},{"i":11,"e":"No","t":40,"v":7.6},
{"i":12,"e":"No","t":1,"v":9.0},{"i":12,"e":"No","t":18,"v":9.0},{"i":12,"e":"No","t":19,"v":8.3},{"i":12,"e":"No","t":20,"v":8.4},{"i":12,"e":"No","t":21,"v":7.7},{"i":12,"e":"No","t":22,"v":7.7},{"i":12,"e":"No","t":24,"v":7.5},{"i":12,"e":"No","t":25,"v":7.9},{"i":12,"e":"No","t":26,"v":8.0},{"i":12,"e":"No","t":27,"v":7.5},{"i":12,"e":"No","t":28,"v":7.9},{"i":12,"e":"No","t":30,"v":7.6},{"i":12,"e":"No","t":31,"v":7.9},{"i":12,"e":"No","t":33,"v":7.7},{"i":12,"e":"No","t":35,"v":7.9},{"i":12,"e":"No","t":37,"v":7.7},{"i":12,"e":"No","t":38,"v":8.1},{"i":12,"e":"No","t":40,"v":8.0},
{"i":13,"e":"No","t":1,"v":9.1},{"i":13,"e":"No","t":9,"v":9.0},{"i":13,"e":"No","t":9.5,"v":8.5},{"i":13,"e":"No","t":10,"v":8.4},{"i":13,"e":"No","t":11,"v":7.9},{"i":13,"e":"No","t":12,"v":8.3},{"i":13,"e":"No","t":13,"v":8.8},{"i":13,"e":"No","t":14,"v":9.0},
{"i":14,"e":"No","t":1,"v":9.0},{"i":14,"e":"No","t":14,"v":9.05},{"i":14,"e":"No","t":15,"v":8.4},{"i":14,"e":"No","t":15.5,"v":7.5},{"i":14,"e":"No","t":16,"v":7.0},{"i":14,"e":"No","t":17,"v":6.9},{"i":14,"e":"No","t":18,"v":6.5},{"i":14,"e":"No","t":19,"v":6.3},{"i":14,"e":"No","t":20,"v":6.6},{"i":14,"e":"No","t":21,"v":6.5},{"i":14,"e":"No","t":22,"v":7.0},{"i":14,"e":"No","t":23,"v":7.3},{"i":14,"e":"No","t":24,"v":7.2},{"i":14,"e":"No","t":25,"v":7.5},{"i":14,"e":"No","t":27,"v":7.3},{"i":14,"e":"No","t":30,"v":7.5},{"i":14,"e":"No","t":33,"v":7.4},{"i":14,"e":"No","t":36,"v":7.6},{"i":14,"e":"No","t":40,"v":7.7},
{"i":21,"e":"Yes","t":1,"v":9.22},{"i":21,"e":"Yes","t":2,"v":8.8},{"i":21,"e":"Yes","t":3,"v":9.22},{"i":21,"e":"Yes","t":4,"v":8.82},{"i":21,"e":"Yes","t":5,"v":9.22},{"i":21,"e":"Yes","t":6,"v":8.8},{"i":21,"e":"Yes","t":7,"v":9.22},{"i":21,"e":"Yes","t":8,"v":8.85},{"i":21,"e":"Yes","t":9,"v":9.22},{"i":21,"e":"Yes","t":10,"v":8.85},{"i":21,"e":"Yes","t":11,"v":9.22},{"i":21,"e":"Yes","t":12,"v":8.85},{"i":21,"e":"Yes","t":13,"v":9.22},{"i":21,"e":"Yes","t":14,"v":8.9},{"i":21,"e":"Yes","t":15,"v":9.22},{"i":21,"e":"Yes","t":16,"v":8.88},{"i":21,"e":"Yes","t":17,"v":9.22},{"i":21,"e":"Yes","t":18,"v":8.9},{"i":21,"e":"Yes","t":19,"v":9.2},{"i":21,"e":"Yes","t":20,"v":8.95},{"i":21,"e":"Yes","t":21,"v":9.2},{"i":21,"e":"Yes","t":22,"v":8.95},{"i":21,"e":"Yes","t":23,"v":9.15},{"i":21,"e":"Yes","t":24,"v":9.0},{"i":21,"e":"Yes","t":25,"v":9.15},{"i":21,"e":"Yes","t":26,"v":9.0},{"i":21,"e":"Yes","t":27,"v":9.1},{"i":21,"e":"Yes","t":28,"v":9.05},{"i":21,"e":"Yes","t":29,"v":9.1},{"i":21,"e":"Yes","t":30,"v":9.05},{"i":21,"e":"Yes","t":31,"v":9.1},{"i":21,"e":"Yes","t":32,"v":9.05},{"i":21,"e":"Yes","t":33,"v":9.1},{"i":21,"e":"Yes","t":34,"v":9.1},{"i":21,"e":"Yes","t":35,"v":9.1},{"i":21,"e":"Yes","t":36,"v":9.05},{"i":21,"e":"Yes","t":37,"v":9.1},{"i":21,"e":"Yes","t":38,"v":9.1},{"i":21,"e":"Yes","t":39,"v":9.15},{"i":21,"e":"Yes","t":40,"v":9.1},
{"i":22,"e":"Yes","t":1,"v":8.82},{"i":22,"e":"Yes","t":2,"v":9.22},{"i":22,"e":"Yes","t":3,"v":8.8},{"i":22,"e":"Yes","t":4,"v":9.22},{"i":22,"e":"Yes","t":5,"v":8.85},{"i":22,"e":"Yes","t":6,"v":9.22},{"i":22,"e":"Yes","t":7,"v":8.8},{"i":22,"e":"Yes","t":8,"v":9.2},{"i":22,"e":"Yes","t":9,"v":8.85},{"i":22,"e":"Yes","t":10,"v":9.22},{"i":22,"e":"Yes","t":11,"v":8.9},{"i":22,"e":"Yes","t":12,"v":9.2},{"i":22,"e":"Yes","t":13,"v":8.85},{"i":22,"e":"Yes","t":14,"v":9.22},{"i":22,"e":"Yes","t":15,"v":8.9},{"i":22,"e":"Yes","t":16,"v":9.2},{"i":22,"e":"Yes","t":17,"v":8.95},{"i":22,"e":"Yes","t":18,"v":9.22},{"i":22,"e":"Yes","t":19,"v":8.9},{"i":22,"e":"Yes","t":20,"v":9.2},{"i":22,"e":"Yes","t":21,"v":8.95},{"i":22,"e":"Yes","t":22,"v":9.15},{"i":22,"e":"Yes","t":23,"v":8.95},{"i":22,"e":"Yes","t":24,"v":9.1},{"i":22,"e":"Yes","t":25,"v":9.0},{"i":22,"e":"Yes","t":26,"v":9.15},{"i":22,"e":"Yes","t":27,"v":9.0},{"i":22,"e":"Yes","t":28,"v":9.1},{"i":22,"e":"Yes","t":29,"v":9.05},{"i":22,"e":"Yes","t":30,"v":9.0},{"i":22,"e":"Yes","t":31,"v":9.05},{"i":22,"e":"Yes","t":32,"v":9.0},
{"i":23,"e":"Yes","t":1,"v":9.15},{"i":23,"e":"Yes","t":2,"v":8.78},{"i":23,"e":"Yes","t":3,"v":9.2},{"i":23,"e":"Yes","t":4,"v":8.8},{"i":23,"e":"Yes","t":5,"v":9.2},{"i":23,"e":"Yes","t":6,"v":8.82},{"i":23,"e":"Yes","t":7,"v":9.15},{"i":23,"e":"Yes","t":8,"v":8.78},{"i":23,"e":"Yes","t":9,"v":9.2},{"i":23,"e":"Yes","t":10,"v":8.85},{"i":23,"e":"Yes","t":11,"v":9.15},{"i":23,"e":"Yes","t":12,"v":8.9},{"i":23,"e":"Yes","t":13,"v":9.2},{"i":23,"e":"Yes","t":14,"v":8.85},{"i":23,"e":"Yes","t":15,"v":9.15},{"i":23,"e":"Yes","t":16,"v":8.9},{"i":23,"e":"Yes","t":17,"v":9.2},{"i":23,"e":"Yes","t":18,"v":8.95},{"i":23,"e":"Yes","t":19,"v":9.15},{"i":23,"e":"Yes","t":20,"v":8.9},{"i":23,"e":"Yes","t":21,"v":9.05},
{"i":24,"e":"Yes","t":1,"v":8.75},{"i":24,"e":"Yes","t":3,"v":8.75},{"i":24,"e":"Yes","t":4,"v":8.63},{"i":24,"e":"Yes","t":5.5,"v":8.63},{"i":24,"e":"Yes","t":7,"v":8.7},{"i":24,"e":"Yes","t":8,"v":8.7},{"i":24,"e":"Yes","t":9,"v":8.55},{"i":24,"e":"Yes","t":10,"v":8.7},{"i":24,"e":"Yes","t":11,"v":8.85},{"i":24,"e":"Yes","t":12,"v":8.95},{"i":24,"e":"Yes","t":12.8,"v":7.8},{"i":24,"e":"Yes","t":15.8,"v":7.8},{"i":24,"e":"Yes","t":18.1,"v":7.85},{"i":24,"e":"Yes","t":19.3,"v":8.63},{"i":24,"e":"Yes","t":20,"v":9.0},{"i":24,"e":"Yes","t":22,"v":9.05},{"i":24,"e":"Yes","t":25,"v":9.0},{"i":24,"e":"Yes","t":28,"v":9.05},{"i":24,"e":"Yes","t":31,"v":8.95},{"i":24,"e":"Yes","t":34,"v":9.05},{"i":24,"e":"Yes","t":37,"v":9.1},{"i":24,"e":"Yes","t":39.5,"v":9.15},
{"i":25,"e":"Yes","t":1.5,"v":9.0},{"i":25,"e":"Yes","t":2.5,"v":9.22},{"i":25,"e":"Yes","t":3.5,"v":8.85},{"i":25,"e":"Yes","t":4.5,"v":9.2},{"i":25,"e":"Yes","t":5.5,"v":8.9},{"i":25,"e":"Yes","t":6.5,"v":9.22},{"i":25,"e":"Yes","t":7.5,"v":8.85},{"i":25,"e":"Yes","t":8.5,"v":9.2},{"i":25,"e":"Yes","t":9.5,"v":8.9},{"i":25,"e":"Yes","t":10.5,"v":9.22},{"i":25,"e":"Yes","t":11.5,"v":8.9},{"i":25,"e":"Yes","t":12.5,"v":9.2},{"i":25,"e":"Yes","t":13.5,"v":8.95},{"i":25,"e":"Yes","t":14.5,"v":9.22},{"i":25,"e":"Yes","t":15.5,"v":8.9},{"i":25,"e":"Yes","t":16.5,"v":9.2},{"i":25,"e":"Yes","t":17.5,"v":8.95},{"i":25,"e":"Yes","t":18.5,"v":9.2},{"i":25,"e":"Yes","t":19.5,"v":9.0},{"i":25,"e":"Yes","t":20.5,"v":9.2},{"i":25,"e":"Yes","t":21.5,"v":9.0},{"i":25,"e":"Yes","t":22.5,"v":9.15},{"i":25,"e":"Yes","t":23.5,"v":9.05},{"i":25,"e":"Yes","t":24.5,"v":9.2},{"i":25,"e":"Yes","t":25.5,"v":9.05}
]
},
"spacing":46.7,
"bounds":"flush",
"hconcat":[
{
 "width":375,"height":395,
 "title":{"text":"Difference in balance"},
 "layer":[
  {"data":{"name":"lg"},"mark":{"type":"line","color":"#cccccc","strokeWidth":0.8},
   "encoding":{
    "x":{"field":"t","type":"quantitative","scale":{"domain":[-0.95,41.95],"nice":false,"zero":false},"axis":{"values":[0,10,20,30,40],"title":"Time","titleX":397,"titleY":49,"titleBaseline":"alphabetic","titleAlign":"center"}},
    "y":{"field":"v","type":"quantitative","scale":{"domain":[-1.16,46.43],"nice":false,"zero":false},"axis":{"values":[0,10,20,30,40],"title":"Value","titlePadding":10}},
    "detail":{"field":"i","type":"nominal"}}},
  {"data":{"name":"lh"},"mark":{"type":"line","strokeWidth":2},
   "encoding":{
    "x":{"field":"t","type":"quantitative"},
    "y":{"field":"v","type":"quantitative"},
    "color":{"field":"e","type":"nominal","scale":{"domain":["No","Yes"],"range":["#0000ff","#ff0000"]},"title":"Event","legend":{"orient":"none","legendX":283,"legendY":492}},
    "strokeDash":{"field":"e","type":"nominal","scale":{"domain":["No","Yes"],"range":[[2,5],[9,6]]},"title":"Event","legend":{"orient":"none","legendX":283,"legendY":492}},
    "detail":{"field":"i","type":"nominal"}}}
 ]
},
{
 "width":361.7,"height":395,
 "title":{"text":"Log internal score"},
 "layer":[
  {"data":{"name":"rg"},"mark":{"type":"line","color":"#cccccc","strokeWidth":0.8},
   "encoding":{
    "x":{"field":"t","type":"quantitative","scale":{"domain":[-0.95,40.5],"nice":false,"zero":false},"axis":{"values":[0,10,20,30,40],"title":null}},
    "y":{"field":"v","type":"quantitative","scale":{"domain":[-0.46,9.66],"nice":false,"zero":false},"axis":{"values":[0,2.5,5,7.5],"format":".1f","title":null}},
    "detail":{"field":"i","type":"nominal"}}},
  {"data":{"name":"rh"},"mark":{"type":"line","strokeWidth":2},
   "encoding":{
    "x":{"field":"t","type":"quantitative"},
    "y":{"field":"v","type":"quantitative"},
    "color":{"field":"e","type":"nominal","scale":{"domain":["No","Yes"],"range":["#0000ff","#ff0000"]},"title":"Event","legend":{"orient":"none","legendX":283,"legendY":492}},
    "strokeDash":{"field":"e","type":"nominal","scale":{"domain":["No","Yes"],"range":[[2,5],[9,6]]},"title":"Event","legend":{"orient":"none","legendX":283,"legendY":492}},
    "detail":{"field":"i","type":"nominal"}}}
 ]
}
]
}
